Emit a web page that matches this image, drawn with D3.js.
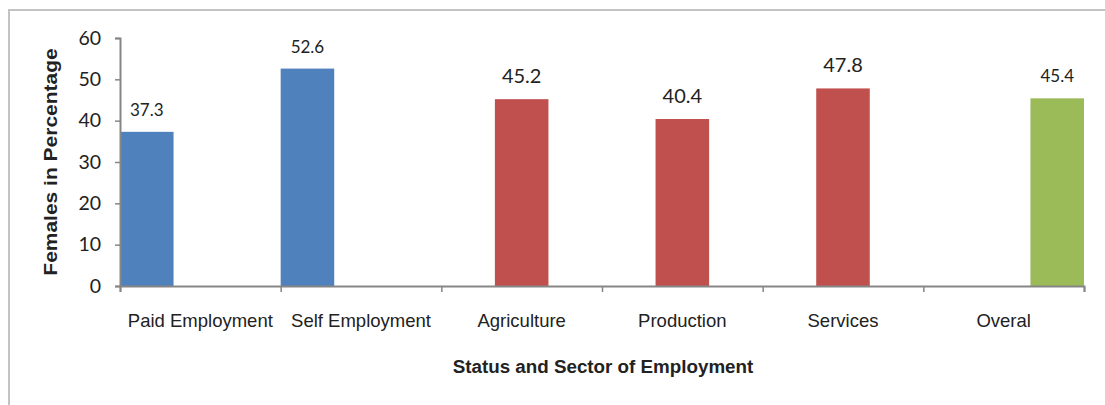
<!DOCTYPE html>
<html>
<head>
<meta charset="utf-8">
<script src="https://cdn.jsdelivr.net/npm/d3@7/dist/d3.min.js"></script>
<style>
  html, body { margin: 0; padding: 0; background: #fff; }
  svg { display: block; }
</style>
</head>
<body>
<svg id="chart" width="1105" height="405"></svg>
<script>
// Share of females by status and sector of employment
const categories = ["Paid Employment", "Self Employment", "Agriculture", "Production", "Services", "Overal"];
const seriesNames = ["Status", "Sector", "Total"];
const statusValues = [37.3, 52.6, null, null, null, null];
const sectorValues = [null, null, 45.2, 40.4, 47.8, null];
const totalValues  = [null, null, null, null, null, 45.4];
const yTicks = [0, 10, 20, 30, 40, 50, 60];

// label font size per category (drawing style)
const labelFont = [17, 17, 20, 20, 20, 17];
const colors = { Status: "#4F81BD", Sector: "#C0504D", Total: "#9BBB59" };

const svg = d3.select("#chart");
const W = 1105, H = 405;
const plotLeft = 120, plotRight = 1084, plotTop = 38, plotBottom = 286;

// outer frame
svg.append("path")
  .attr("d", `M9,${H} L9,10 L${W},10`)
  .attr("fill", "none").attr("stroke", "#c3c3c3").attr("stroke-width", 2);

const x = d3.scaleBand().domain(categories).range([plotLeft, plotRight]).padding(0);
const xs = d3.scaleBand().domain(seriesNames).range([0, x.bandwidth()]).padding(0);
const y = d3.scaleLinear().domain([0, 60]).range([plotBottom, plotTop]);
const xb = d3.scaleLinear().domain([0, categories.length]).range([plotLeft, plotRight]);

const rows = [];
const valuesBy = { Status: statusValues, Sector: sectorValues, Total: totalValues };
categories.forEach((c, i) => {
  seriesNames.forEach(s => {
    const v = valuesBy[s][i];
    if (v != null) rows.push({ cat: c, idx: i, series: s, value: v });
  });
});

// bars
svg.append("g").selectAll("rect").data(rows).join("rect")
  .attr("x", d => x(d.cat) + xs(d.series))
  .attr("y", d => y(d.value))
  .attr("width", xs.bandwidth())
  .attr("height", d => y(0) - y(d.value))
  .attr("fill", d => colors[d.series]);

// value labels
svg.append("g").selectAll("text").data(rows).join("text")
  .attr("x", d => x(d.cat) + xs(d.series) + xs.bandwidth() / 2)
  .attr("y", d => y(d.value) - 16)
  .attr("text-anchor", "middle")
  .attr("font-family", "Lato, 'Open Sans', sans-serif")
  .attr("font-size", d => labelFont[d.idx])
  .attr("fill", "#222")
  .text(d => d.value.toFixed(1));

// y axis
const yAxis = svg.append("g").attr("transform", `translate(${plotLeft},0)`)
  .call(d3.axisLeft(y).tickValues(yTicks).tickSize(5).tickPadding(14));
yAxis.select(".domain").attr("stroke", "#868686").attr("stroke-width", 2);
yAxis.selectAll(".tick line").attr("stroke", "#868686").attr("stroke-width", 1.5);
yAxis.selectAll(".tick text")
  .attr("font-family", "Lato, sans-serif").attr("font-size", 19.5).attr("fill", "#222");

// x axis: boundary ticks
const xTickAxis = svg.append("g").attr("transform", `translate(0,${plotBottom})`)
  .call(d3.axisBottom(xb).ticks(categories.length).tickSize(6).tickFormat(""));
xTickAxis.select(".domain").attr("stroke", "#868686").attr("stroke-width", 2);
xTickAxis.selectAll(".tick line").attr("stroke", "#868686").attr("stroke-width", 1.5);

// x axis: category labels
const xLabelAxis = svg.append("g").attr("transform", `translate(0,${plotBottom})`)
  .call(d3.axisBottom(x).tickSize(0).tickPadding(0));
xLabelAxis.select(".domain").remove();
xLabelAxis.selectAll(".tick text")
  .attr("y", 41).attr("dy", null)
  .attr("font-family", "'Liberation Sans', Arial, sans-serif")
  .attr("font-size", 18.5).attr("fill", "#222");

// axis titles
svg.append("text")
  .attr("x", (plotLeft + plotRight) / 2 + 1).attr("y", 373)
  .attr("text-anchor", "middle")
  .attr("font-family", "'Liberation Sans', Arial, sans-serif")
  .attr("font-weight", "bold").attr("font-size", 18.8).attr("fill", "#222")
  .text("Status and Sector of Employment");

svg.append("text")
  .attr("transform", `translate(57,${(plotTop + plotBottom) / 2}) scale(0.85,1) rotate(-90)`)
  .attr("text-anchor", "middle")
  .attr("font-family", "'Liberation Sans', Arial, sans-serif")
  .attr("font-weight", "bold").attr("font-size", 21).attr("fill", "#222")
  .text("Females in Percentage");
</script>
</body>
</html>
